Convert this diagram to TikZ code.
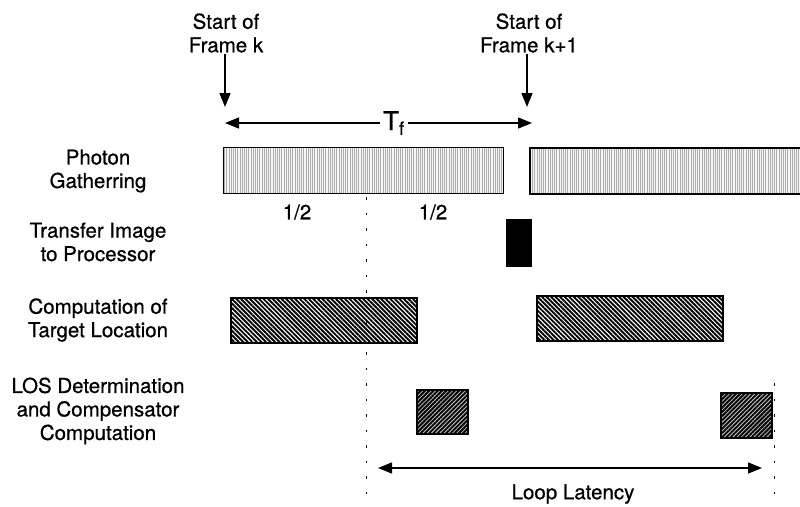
\documentclass[tikz,border=0pt]{standalone}
\usepackage{fontspec}
\setmainfont{TeX Gyre Heros}[FakeBold=0.7]
\usetikzlibrary{
  arrows.meta,
  patterns.meta,
  positioning
}
\tikzset{
  txt/.style={
    align=center,
    inner sep=1pt,
    font=\fontsize{20.5}{23.5}\selectfont
  },
  marker/.style={
    -{Triangle[length=14pt,width=11pt]},
    line width=1.4pt
  },
  timespan/.style={
    {Triangle[length=14pt,width=11pt]}-{Triangle[length=14pt,width=11pt]},
    line width=1.4pt
  },
  guide/.style={
    line width=1pt,
    dash pattern=on 2.5pt off 13pt
  },
  bar/.style={
    draw,
    line width=1.5pt,
    inner sep=0pt,
    anchor=north west
  },
  gather/.style={
    bar,
    preaction={fill=gray!8},
    pattern={Lines[angle=90,distance=2.2pt,line width=0.6pt]},
    pattern color=gray!65
  },
  transfer/.style={
    bar,
    fill=black
  },
  compute/.style={
    bar,
    preaction={fill=white},
    pattern={Lines[angle=-45,distance=3.2pt,line width=1.9pt]}
  },
  los/.style={
    bar,
    preaction={fill=gray!50},
    pattern={Lines[angle=45,distance=3pt,line width=1.9pt]}
  }
}

\begin{document}
\begin{tikzpicture}[x=1pt, y=-1pt]
  \clip (0,0) rectangle (800,506);

  % frame markers
  \node[txt] (startk) at (226,33) {Start of\\Frame k};
  \node[txt] (startk1) at (529,33) {Start of\\Frame k+1};
  \coordinate (tipk) at (225,107);
  \coordinate (tipk1) at (527,107);
  \draw[marker] (startk.south -| tipk) -- (tipk);
  \draw[marker] (startk1.south -| tipk1) -- (tipk1);

  \coordinate (tfleft) at (225,123);
  \coordinate (tfright) at (532,123);
  \draw[timespan] (tfleft) -- node[pos=0.55, fill=white, inner sep=3pt,
    font=\fontsize{26}{28}\selectfont] (tf) {T\textsubscript{f}} (tfright);

  % row labels
  \node[txt] (lgather) at (98,171) {Photon\\Gatherring};
  \node[txt] (ltransfer) at (98,242) {Transfer Image\\to Processor};
  \node[txt] (lcompute) at (98,320) {Computation of\\Target Location};
  \node[txt] (llos) at (98,411) {LOS Determination\\and Compensator\\Computation};

  % activity bars
  \node[gather, minimum width=280pt, minimum height=46pt] (pg1) at (223,147) {};
  \node[gather, minimum width=290pt, minimum height=46pt] (pg2) at (529,147) {};
  \node[transfer, minimum width=24pt, minimum height=46pt] (ti) at (506,219) {};
  \node[compute, minimum width=186pt, minimum height=45pt] (ct1) at (230,297) {};
  \node[compute, minimum width=186pt, minimum height=45pt] (ct2) at (536,295) {};
  \node[los, minimum width=51pt, minimum height=44pt] (lc1) at (416,389) {};
  \node[los, minimum width=51pt, minimum height=45pt] (lc2) at (720,392) {};

  \node[txt] (half1) at (297,212) {1/2};
  \node[txt] (half2) at (433,212) {1/2};

  % latency
  \draw[guide] (366,197) -- (366,506);
  \draw[guide] (774,383) -- (774,506);
  \coordinate (loopleft) at (378,468);
  \coordinate (loopright) at (762,468);
  \draw[timespan] (loopleft) -- (loopright);
  \node[txt] (loop) at (573,494) {Loop Latency};
\end{tikzpicture}
\end{document}
